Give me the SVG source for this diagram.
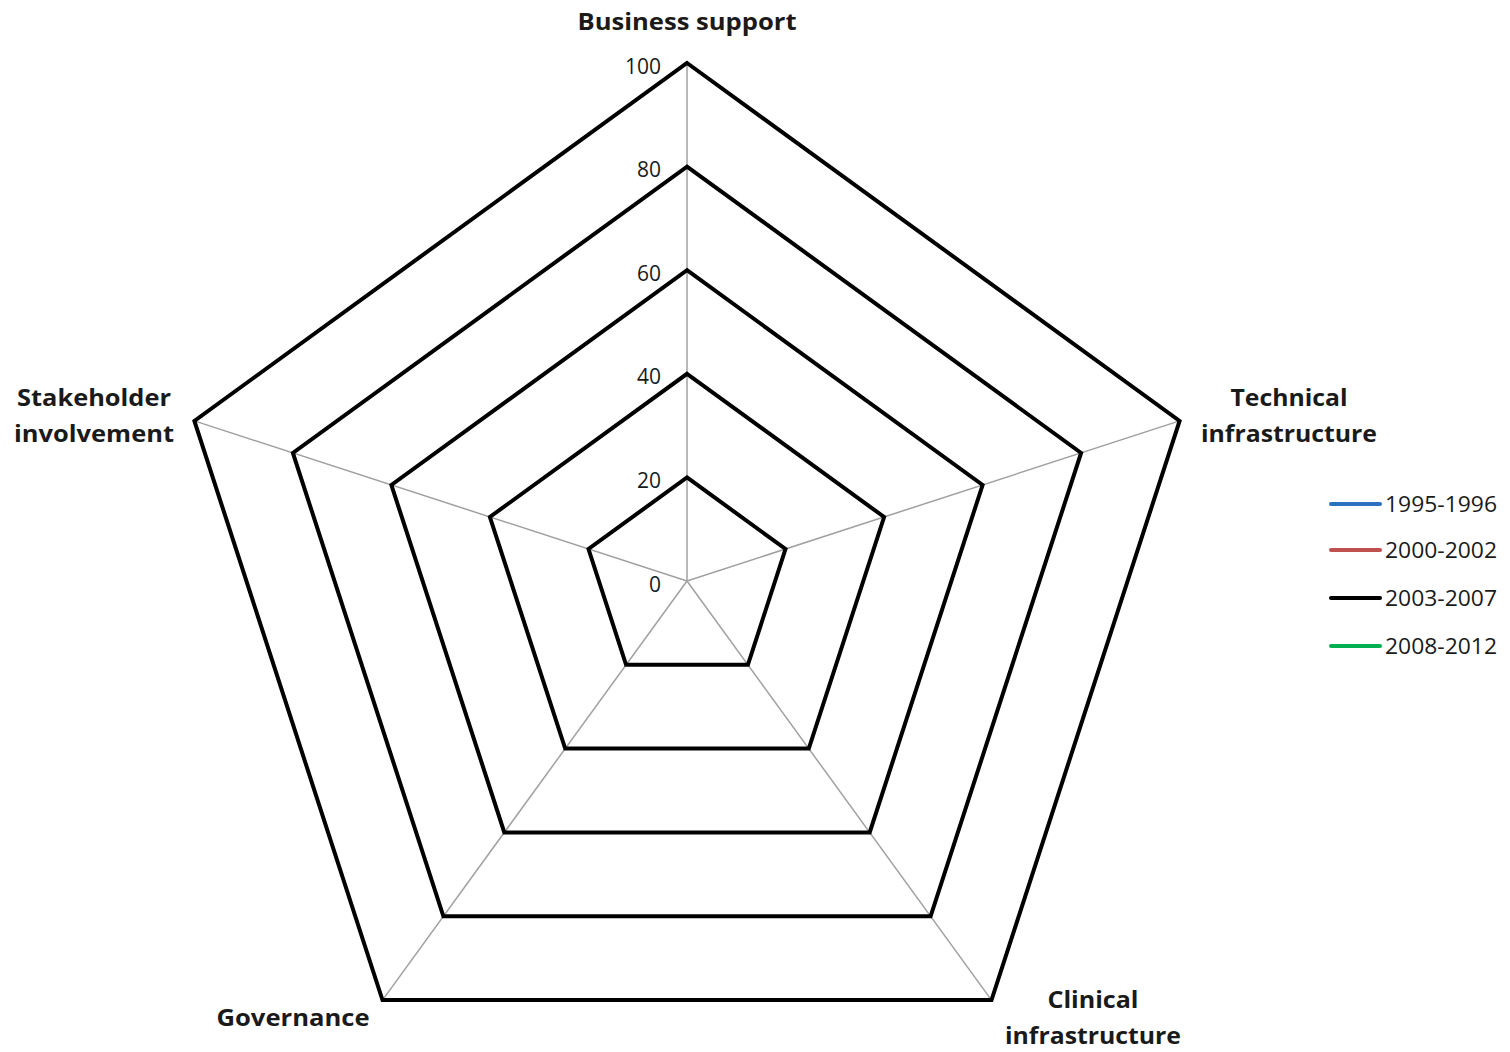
<svg xmlns="http://www.w3.org/2000/svg" width="1510" height="1052" viewBox="0 0 1510 1052">
<style>
.ring{fill:none;stroke:#000;stroke-width:4;stroke-linejoin:miter}
.spoke{stroke:#a0a0a0;stroke-width:1.5}
.cat{font-family:"Open Sans","Noto Sans",sans-serif;font-weight:bold;font-size:24px;fill:#1a1a1a;text-anchor:middle}
.tick{font-family:"Open Sans","Noto Sans",sans-serif;font-size:21px;fill:#1a1a1a;text-anchor:end}
.leg{font-family:"Open Sans","Noto Sans",sans-serif;font-size:21px;fill:#1a1a1a}
.ll{stroke-width:4;stroke-linecap:round}
</style>
<rect width="1510" height="1052" fill="#fff"/>
<g id="connectors">
<line class="spoke" x1="687" y1="581" x2="687" y2="63"/>
<line class="spoke" x1="687" y1="581" x2="1179.6" y2="420.9"/>
<line class="spoke" x1="687" y1="581" x2="991.5" y2="1000.1"/>
<line class="spoke" x1="687" y1="581" x2="382.5" y2="1000.1"/>
<line class="spoke" x1="687" y1="581" x2="194.4" y2="420.9"/>
</g>
<g id="rings">
<polygon class="ring" points="687,477.4 785.5,549 747.9,664.8 626.1,664.8 588.5,549"/>
<polygon class="ring" points="687,373.8 884.1,517 808.8,748.6 565.2,748.6 489.9,517"/>
<polygon class="ring" points="687,270.2 982.6,485 869.7,832.4 504.3,832.4 391.4,485"/>
<polygon class="ring" points="687,166.6 1081.1,452.9 930.6,916.3 443.4,916.3 292.9,452.9"/>
<polygon class="ring" points="687,63 1179.6,420.9 991.5,1000.1 382.5,1000.1 194.4,420.9"/>
</g>
<g id="ticks">
<text class="tick" x="661" y="74">100</text>
<text class="tick" x="661" y="177">80</text>
<text class="tick" x="661" y="281">60</text>
<text class="tick" x="661" y="384">40</text>
<text class="tick" x="661" y="488">20</text>
<text class="tick" x="661" y="592">0</text>
</g>
<g id="business-support"><text class="cat" x="687" y="30" textLength="219" lengthAdjust="spacingAndGlyphs">Business support</text></g>
<g id="technical-infrastructure"><text class="cat" x="1289" y="406" textLength="117" lengthAdjust="spacingAndGlyphs">Technical</text><text class="cat" x="1289" y="442" textLength="176" lengthAdjust="spacingAndGlyphs">infrastructure</text></g>
<g id="clinical-infrastructure"><text class="cat" x="1093" y="1008" textLength="91" lengthAdjust="spacingAndGlyphs">Clinical</text><text class="cat" x="1093" y="1044" textLength="176" lengthAdjust="spacingAndGlyphs">infrastructure</text></g>
<g id="governance"><text class="cat" x="293" y="1026" textLength="153" lengthAdjust="spacingAndGlyphs">Governance</text></g>
<g id="stakeholder-involvement"><text class="cat" x="94" y="406" textLength="154" lengthAdjust="spacingAndGlyphs">Stakeholder</text><text class="cat" x="94" y="442" textLength="160" lengthAdjust="spacingAndGlyphs">involvement</text></g>
<g id="legend">
<line class="ll" x1="1331" y1="504" x2="1380" y2="504" stroke="#2a72c0"/>
<text class="leg" x="1385" y="512" textLength="112" lengthAdjust="spacingAndGlyphs">1995-1996</text>
<line class="ll" x1="1331" y1="550" x2="1380" y2="550" stroke="#c0504d"/>
<text class="leg" x="1385" y="558" textLength="112" lengthAdjust="spacingAndGlyphs">2000-2002</text>
<line class="ll" x1="1331" y1="598" x2="1380" y2="598" stroke="#000"/>
<text class="leg" x="1385" y="606" textLength="112" lengthAdjust="spacingAndGlyphs">2003-2007</text>
<line class="ll" x1="1331" y1="646" x2="1380" y2="646" stroke="#00b050"/>
<text class="leg" x="1385" y="654" textLength="112" lengthAdjust="spacingAndGlyphs">2008-2012</text>
</g>
</svg>
